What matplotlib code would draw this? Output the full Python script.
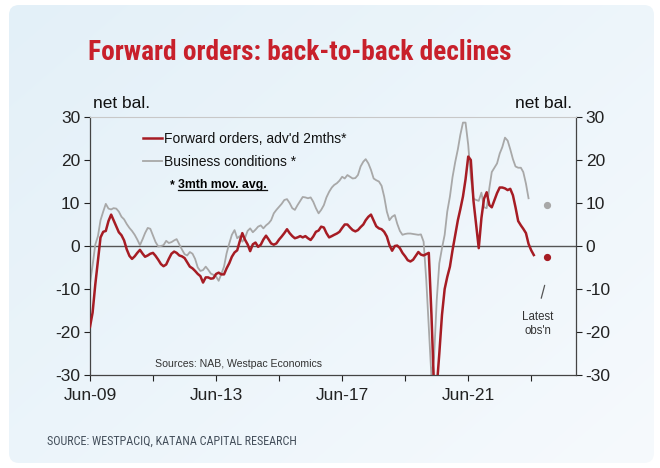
import matplotlib
matplotlib.use("Agg")
import matplotlib.pyplot as plt
import numpy as np
import pandas as pd
from matplotlib.patches import FancyBboxPatch
from matplotlib.lines import Line2D
from matplotlib import font_manager as fm

# ---------------- data (monthly, starting Jun-2009) ----------------
start_month = "2009-06-01"
forward_orders = [
    -18.8, -15.5, -9.0, -3.5, 2.0, 3.3, 3.5, 5.8, 7.3, 6.0,
    4.6, 3.2, 2.5, 1.3, -0.8, -2.3, -3.0, -2.4, -1.6, -0.9,
    -1.8, -2.5, -2.2, -1.8, -1.6, -2.3, -3.2, -4.2, -4.7, -4.3,
    -3.0, -1.8, -1.3, -1.6, -2.2, -2.4, -2.8, -3.8, -4.8, -5.2,
    -5.8, -6.5, -7.0, -8.5, -7.3, -7.3, -7.6, -7.5, -6.5, -6.2,
    -6.6, -6.6, -5.2, -4.0, -2.5, -1.5, -1.0, 1.0, 3.0, 1.5,
    0.4, -1.2, 0.4, 0.8, -0.2, 0.3, 1.5, 2.4, 1.5, 0.6,
    0.3, 0.6, 1.5, 2.2, 3.0, 3.9, 3.0, 2.3, 1.8, 2.0,
    2.3, 2.0, 2.3, 1.8, 1.4, 2.2, 3.3, 3.6, 4.5, 4.3,
    3.0, 2.0, 2.3, 2.6, 2.9, 3.3, 4.2, 5.0, 5.0, 4.3,
    3.7, 3.4, 3.7, 4.4, 5.0, 6.0, 6.8, 7.3, 5.9, 4.6,
    4.1, 3.9, 3.3, 2.2, 0.2, -1.1, 0.0, 0.1, -0.5, -1.6,
    -2.4, -3.3, -3.6, -3.2, -2.3, -1.4, -2.0, -2.2, -1.9, -1.6,
    -16.0, -33.0, -33.0, -25.0, -16.0, -10.0, -7.2, -4.8, -1.0, 2.5,
    6.0, 8.5, 11.5, 15.5, 20.8, 20.0, 10.5, 5.0, -0.5, 6.5,
    11.0, 12.5, 9.5, 9.0, 10.7, 12.3, 13.6, 13.6, 13.4, 13.0,
    13.3, 11.8, 9.0, 5.8, 4.8, 4.0, 3.0, 0.5, -1.0, -2.1,
]
business_conditions = [
    -8.7, -4.5, 0.3, 2.3, 6.0, 8.0, 9.8, 8.7, 8.5, 8.8,
    8.7, 8.0, 6.8, 6.2, 5.1, 4.2, 3.5, 2.6, 1.5, 0.2,
    1.6, 3.0, 4.2, 4.0, 2.4, 0.9, -0.1, 0.0, 0.2, 1.2,
    0.7, 0.9, 1.3, 1.6, 0.4, -0.8, -1.9, -2.2, -1.4, -1.8,
    -3.0, -5.0, -5.8, -5.6, -4.8, -5.5, -6.4, -6.7, -7.1, -8.1,
    -6.5, -4.8, -1.7, 0.6, 2.6, 3.7, 1.8, 2.3, 1.0, 1.8,
    3.5, 4.1, 3.2, 3.8, 4.5, 4.8, 4.1, 4.8, 5.3, 6.0,
    7.6, 8.4, 9.1, 9.8, 10.7, 10.9, 10.0, 8.8, 8.4, 9.5,
    10.5, 11.4, 11.3, 11.1, 11.3, 10.3, 8.8, 7.6, 8.4, 9.5,
    11.3, 12.6, 13.6, 14.2, 14.6, 15.2, 16.1, 15.7, 16.5, 16.1,
    15.7, 15.8, 16.5, 18.5, 19.6, 20.2, 19.2, 17.7, 15.7, 15.3,
    15.0, 14.0, 11.5, 8.0, 6.0, 6.8, 7.2, 5.2, 3.5, 2.6,
    2.8, 2.9, 2.9, 2.8, 2.7, 2.6, 2.7, 1.0, -8.0, -19.0,
    -30.5, -26.0, -12.6, -4.0, -0.5, 2.6, 8.0, 11.5, 16.0, 19.5,
    22.5, 25.8, 28.7, 28.7, 23.5, 16.0, 11.0, 10.7, 10.5, 12.4,
    9.0, 8.8, 13.5, 17.2, 18.2, 19.2, 21.5, 23.0, 25.2, 24.5,
    22.5, 20.2, 18.5, 18.2, 18.2, 17.2, 14.5, 11.1,
]
latest_date = "2023-12-01"
latest_forward_orders = -2.5
latest_business_conditions = 9.6

series_labels = ["Forward orders, adv'd 2mths*", "Business conditions *"]
yticks = [-30, -20, -10, 0, 10, 20, 30]
xtick_dates = ["2009-06-01", "2011-06-01", "2013-06-01", "2015-06-01",
               "2017-06-01", "2019-06-01", "2021-06-01", "2023-06-01"]
xtick_labels = ["Jun-09", "", "Jun-13", "", "Jun-17", "", "Jun-21", ""]
x_end = "2024-11-01"

title = "Forward orders: back-to-back declines"
source = "SOURCE: WESTPACIQ, KATANA CAPITAL RESEARCH"

# ---------------- styling ----------------
RED = "#a61c24"
GREY = "#a8a8a8"
TITLE_RED = "#c8202b"
BASE = ["Liberation Sans", "DejaVu Sans"]
plt.rcParams["font.family"] = BASE

# pick a condensed face if one is installed
_fonts = fm.fontManager.ttflist
_names = {f.name for f in _fonts}
narrow_kw = None
for cand in ["Liberation Sans Narrow", "Roboto Condensed", "Open Sans Condensed",
             "DejaVu Sans Condensed", "Noto Sans Condensed"]:
    if cand in _names:
        narrow_kw = dict(family=[cand, "DejaVu Sans"])
        break
if narrow_kw is None:
    cond = [f for f in _fonts if f.name == "DejaVu Sans" and str(f.stretch) in ("condensed", "semi-condensed", "500")]
    if any(str(f.stretch) == "condensed" for f in cond):
        narrow_kw = dict(family=["DejaVu Sans"], fontstretch="condensed")
    else:
        narrow_kw = dict(family=BASE)

W, H = 660, 468
fig = plt.figure(figsize=(W / 100, H / 100), dpi=100)
fig.patch.set_facecolor("white")

# background card with soft gradient
bgax = fig.add_axes([0, 0, 1, 1], zorder=-10)
bgax.set_xlim(0, W)
bgax.set_ylim(H, 0)
bgax.axis("off")
card = FancyBboxPatch((9, 5), 645, 458, boxstyle="round,pad=0,rounding_size=10",
                      fc="none", ec="none", transform=bgax.transData)
bgax.add_patch(card)
gy, gx = np.mgrid[0:1:60j, 0:1:80j]
t = np.clip(0.55 * gx + 0.45 * gy, 0, 1)
c0 = np.array([0.890, 0.941, 0.973])
c1 = np.array([0.965, 0.980, 0.992])
grad = c0[None, None, :] * (1 - t[..., None]) + c1[None, None, :] * t[..., None]
im = bgax.imshow(grad, extent=(0, W, H, 0), aspect="auto", interpolation="bilinear")
im.set_clip_path(card)

# main axes
ax_l, ax_r, ax_t, ax_b = 90, 576, 117, 375
ax = fig.add_axes([ax_l / W, (H - ax_b) / H, (ax_r - ax_l) / W, (ax_b - ax_t) / H])
ax.patch.set_alpha(0)

dates_fo = pd.date_range(start_month, periods=len(forward_orders), freq="MS")
dates_bc = pd.date_range(start_month, periods=len(business_conditions), freq="MS")

ax.axhline(0, color="#555555", lw=1.0, zorder=1)
ax.plot(dates_bc, business_conditions, color=GREY, lw=1.3, label=series_labels[1], zorder=2)
ax.plot(dates_fo, forward_orders, color=RED, lw=1.8, label=series_labels[0], zorder=3)
ax.plot([pd.Timestamp(latest_date)], [latest_business_conditions], "o", color=GREY, ms=4.2, zorder=3)
ax.plot([pd.Timestamp(latest_date)], [latest_forward_orders], "o", color=RED, ms=4.2, zorder=3)

ax.set_ylim(-30, 30)
ax.set_xlim(pd.Timestamp(start_month), pd.Timestamp(x_end))
ax.set_yticks(yticks)
ax.set_yticklabels([str(v) for v in yticks])
ax.set_xticks([pd.Timestamp(d) for d in xtick_dates])
ax.set_xticklabels(xtick_labels)

ax.tick_params(axis="y", which="both", left=True, right=True, labelleft=True,
               labelright=True, direction="out", length=4, width=0.8,
               labelsize=12.5, pad=3, colors="#222222")
ax.tick_params(axis="x", direction="out", length=4, width=0.8, labelsize=12.5,
               pad=5, colors="#222222")
for side in ["left", "right", "bottom"]:
    ax.spines[side].set_color("#444444")
    ax.spines[side].set_linewidth(0.9)
ax.spines["top"].set_color("#c8c8c8")
ax.spines["top"].set_linewidth(0.8)

# legend
handles, labels = ax.get_legend_handles_labels()
order = [labels.index(series_labels[0]), labels.index(series_labels[1])]
leg = ax.legend([handles[i] for i in order], [labels[i] for i in order],
                loc="upper left", bbox_to_anchor=((143 - ax_l) / (ax_r - ax_l), 0.942),
                frameon=False, fontsize=10, handlelength=1.35, handletextpad=0.15,
                labelspacing=0.62, borderpad=0, borderaxespad=0)
for txt in leg.get_texts():
    txt.set_color("#111111")

# footnote about moving average
ax.text((170 - ax_l) / (ax_r - ax_l), (ax_b - 185) / (ax_b - ax_t), "*",
        transform=ax.transAxes, fontsize=8.8, fontweight="bold", va="center", ha="left")
mov = ax.text((178 - ax_l) / (ax_r - ax_l), (ax_b - 185) / (ax_b - ax_t), "3mth mov. avg.",
              transform=ax.transAxes, fontsize=8.8, fontweight="bold", va="center", ha="left")

ax.text((155 - ax_l) / (ax_r - ax_l), (ax_b - 364) / (ax_b - ax_t), "Sources: NAB, Westpac Economics",
        transform=ax.transAxes, fontsize=7.6, color="#333333", va="center", ha="left")

# latest observation note
ax.annotate("", xy=(0.937, 0.358), xytext=(0.927, 0.287), xycoords="axes fraction",
            arrowprops=dict(arrowstyle="-", color="#555555", lw=0.9))
ax.text(0.921, 0.198, "Latest\nobs'n", transform=ax.transAxes, fontsize=8.3,
        ha="center", va="center", color="#333333", linespacing=1.25)

# axis unit labels
fig.text(93 / W, (H - 104) / H, "net bal.", fontsize=12.5, ha="left", va="center", color="#111111")
fig.text(572 / W, (H - 104) / H, "net bal.", fontsize=12.5, ha="right", va="center", color="#111111")

# title and source
title_txt = fig.text(88 / W, (H - 52) / H, title, fontsize=22, fontweight="bold", color=TITLE_RED,
                     ha="left", va="center", **narrow_kw)
source_txt = fig.text(47 / W, (H - 441) / H, source, fontsize=10, color="#45505c",
                      ha="left", va="center", **narrow_kw)

# fit title / source to the widths they take in the reference
fig.canvas.draw()
for txt, target in [(title_txt, 424.0), (source_txt, 250.0)]:
    w = txt.get_window_extent().width
    txt.set_fontsize(txt.get_fontsize() * target / w)

# underline for "3mth mov. avg."
fig.canvas.draw()
bb = mov.get_window_extent()
inv = fig.transFigure.inverted()
(x0, y0), (x1, _) = inv.transform([(bb.x0, bb.y0 + 1), (bb.x1, bb.y0 + 1)])
fig.add_artist(Line2D([x0, x1], [y0, y0], transform=fig.transFigure, color="#111111", lw=0.9))

fig.savefig("out.png", dpi=100, facecolor="white")
